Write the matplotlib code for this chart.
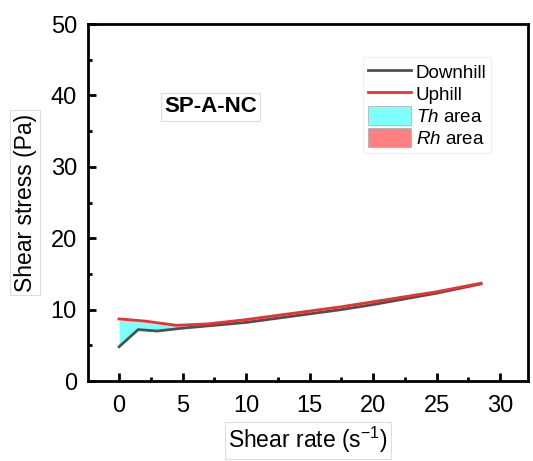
import matplotlib.pyplot as plt
import matplotlib.patches as mpatches
from matplotlib.lines import Line2D
from matplotlib.ticker import MultipleLocator
import numpy as np

plt.rcParams['font.family'] = ['Liberation Sans', 'DejaVu Sans']
plt.rcParams['mathtext.fontset'] = 'custom'
plt.rcParams['mathtext.rm'] = 'Liberation Sans'
plt.rcParams['mathtext.it'] = 'Liberation Sans:italic'

# data
down_x = [0, 1.5, 3, 5, 7.5, 10, 12.5, 15, 17.5, 20, 22.5, 25, 28.5]
down_y = [4.8, 7.2, 7.0, 7.4, 7.8, 8.2, 8.8, 9.4, 10.0, 10.7, 11.5, 12.3, 13.6]
up_x = [0, 2, 4.5, 7, 10, 12.5, 15, 17.5, 20, 22.5, 25, 28.5]
up_y = [8.7, 8.4, 7.8, 8.0, 8.6, 9.2, 9.8, 10.4, 11.1, 11.8, 12.5, 13.7]

fig = plt.figure(figsize=(5.33, 4.61), dpi=100)
ax = fig.add_axes([88/533, 1-381/461, 440/533, 357/461])

# fill areas on a common grid
xx = np.linspace(0, 28.5, 400)
dd = np.interp(xx, down_x, down_y)
uu = np.interp(xx, up_x, up_y)
ax.fill_between(xx, dd, uu, where=uu >= dd, color='#80FFFF', interpolate=True, lw=0)
ax.fill_between(xx, dd, uu, where=uu < dd, color='#FF8080', interpolate=True, lw=0)

ax.plot(down_x, down_y, color='#505050', lw=2)
ax.plot(up_x, up_y, color='#F03030', lw=2)

ax.set_xlim(-2.45, 32.2)
ax.set_ylim(0, 50)
ax.xaxis.set_major_locator(MultipleLocator(5))
ax.xaxis.set_minor_locator(MultipleLocator(2.5))
ax.yaxis.set_major_locator(MultipleLocator(10))
ax.yaxis.set_minor_locator(MultipleLocator(5))
ax.tick_params(which='major', direction='in', length=6, width=2, labelsize=17)
ax.tick_params(axis='x', which='major', pad=10)
ax.tick_params(axis='y', which='major', pad=8)
ax.tick_params(which='minor', direction='in', length=3, width=2)
for s in ax.spines.values():
    s.set_linewidth(2)

box = dict(boxstyle='square,pad=0.15', fc='white', ec='#dddddd', lw=0.8)
ax.set_xlabel('Shear rate (s$^{\\mathrm{-1}}$)', fontsize=16.5, labelpad=6, bbox=box)
ax.set_ylabel('Shear stress (Pa)', fontsize=16.5, labelpad=10, bbox=box)

fig.text(164/533, 1 - 107/461, 'SP-A-NC', fontsize=16, fontweight='bold',
         va='center', ha='left', bbox=box)

handles = [Line2D([], [], color='#505050', lw=2),
           Line2D([], [], color='#F03030', lw=2),
           mpatches.Patch(fc='#80FFFF', ec='#aaaaaa', lw=0.5),
           mpatches.Patch(fc='#FF8080', ec='#aaaaaa', lw=0.5)]
labels = ['Downhill', 'Uphill', '$\\mathit{Th}$ area', '$\\mathit{Rh}$ area']
leg = ax.legend(handles, labels, loc='upper left',
                bbox_to_anchor=(363/533, 1 - 57/461), bbox_transform=fig.transFigure,
                borderaxespad=0, fontsize=13.5, frameon=True, fancybox=False,
                edgecolor='#eeeeee', handlelength=2.3, handleheight=1.2,
                labelspacing=0.12, borderpad=0.25, handletextpad=0.25)

fig.savefig('out.png', dpi=100)
